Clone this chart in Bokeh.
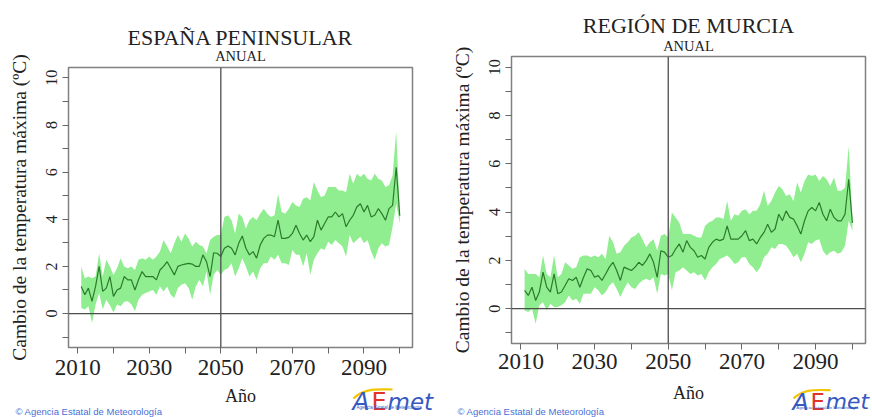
from bokeh.plotting import figure
from bokeh.layouts import row, column
from bokeh.models import Range1d, FixedTicker, Span, Title
from bokeh.core.properties import value
from bokeh.embed import file_html
from bokeh.resources import INLINE

# ---------------- data ----------------
years = list(range(2011, 2101))

esp_mean = [1.15, 0.8, 1.08, 0.52, 1.15, 2.0, 0.94, 1.08, 1.57, 0.73,
            1.0, 1.08, 1.57, 1.43, 1.43, 1.0, 1.43, 1.78, 1.57, 1.57,
            1.57, 1.43, 1.85, 2.0, 2.2, 1.92, 1.64, 2.0, 2.06, 2.1,
            2.13, 2.1, 2.0, 2.0, 2.49, 2.2, 1.57, 2.58, 2.56, 2.42,
            2.77, 2.87, 2.77, 2.49, 2.98, 3.29, 2.77, 2.49, 2.63, 2.35,
            2.91, 3.19, 3.33, 3.33, 3.26, 3.96, 3.19, 3.19, 3.23, 3.4,
            3.75, 3.4, 3.12, 3.33, 3.05, 3.26, 3.96, 3.54, 3.82, 4.1,
            4.1, 4.31, 4.1, 4.24, 3.68, 3.96, 4.17, 4.52, 4.66, 4.31,
            4.59, 4.1, 4.17, 4.45, 4.24, 3.96, 4.45, 4.59, 6.21, 4.15]
esp_high = [2.0, 1.5, 1.57, 1.5, 1.57, 2.56, 1.57, 2.28, 2.0, 1.64,
            1.92, 2.35, 2.0, 1.92, 2.0, 1.85, 2.28, 2.35, 2.28, 2.42,
            2.28, 2.42, 2.63, 3.12, 2.84, 2.56, 2.98, 3.33, 3.05, 3.4,
            3.19, 2.84, 3.05, 2.91, 2.84, 2.56, 3.12, 3.26, 3.33, 3.33,
            4.1, 4.17, 3.96, 3.4, 4.24, 4.1, 3.61, 3.96, 4.1, 3.96,
            4.24, 4.45, 4.24, 4.1, 4.17, 5.06, 4.31, 4.24, 4.45, 4.73,
            4.59, 4.52, 4.87, 4.94, 4.8, 5.58, 5.22, 4.94, 5.01, 5.37,
            5.37, 5.37, 5.22, 5.22, 5.15, 5.93, 5.51, 5.93, 5.79, 5.93,
            5.72, 5.65, 5.93, 5.72, 5.65, 5.37, 5.44, 5.86, 7.75, 4.4]
esp_low = [0.24, 0.17, 0.31, -0.4, 0.38, 0.87, 0.17, 0.59, 0.35, 0.05,
           0.38, 0.31, 0.5, 0.52, 0.4, 0.1, 0.59, 0.8, 0.87, 0.94,
           1.0, 0.8, 1.15, 0.94, 1.15, 0.8, 0.66, 1.08, 1.22, 1.29,
           1.08, 0.59, 1.15, 1.43, 1.15, 1.78, 0.8, 1.64, 1.85, 1.64,
           1.85, 1.92, 2.13, 1.57, 1.92, 2.35, 2.0, 1.57, 1.78, 1.43,
           1.92, 2.13, 2.13, 2.42, 2.28, 2.49, 2.13, 2.13, 2.06, 2.7,
           2.49, 2.49, 2.0, 2.56, 1.64, 2.28, 2.56, 2.77, 2.7, 3.05,
           2.91, 3.12, 2.98, 2.84, 2.42, 3.33, 2.98, 3.12, 3.26, 2.98,
           3.12, 2.63, 2.28, 2.77, 2.98, 2.84, 2.91, 3.68, 4.66, 3.82]

mur_mean = [0.76, 0.55, 0.89, 0.34, 0.69, 1.51, 0.89, 0.69, 1.44, 0.62,
            0.69, 0.96, 1.24, 1.17, 1.3, 0.89, 1.3, 1.65, 1.58, 1.3,
            1.37, 1.17, 1.44, 1.72, 1.92, 1.58, 1.17, 1.72, 1.65, 1.58,
            1.72, 1.92, 1.79, 1.99, 2.27, 1.92, 1.3, 2.4, 2.34, 2.13,
            2.2, 2.47, 2.68, 2.34, 2.82, 2.54, 2.4, 2.13, 2.2, 2.06,
            2.54, 2.75, 2.88, 2.82, 2.88, 3.43, 2.88, 2.88, 2.88, 3.02,
            3.23, 2.82, 2.88, 2.68, 2.95, 3.16, 3.5, 3.16, 3.3, 3.91,
            3.64, 4.05, 3.78, 3.71, 3.43, 3.09, 3.64, 4.05, 4.19, 4.05,
            4.4, 3.91, 3.64, 4.12, 3.78, 3.64, 3.64, 3.91, 5.36, 3.55]
mur_high = [1.65, 1.44, 1.44, 1.44, 1.3, 2.2, 1.44, 1.3, 2.2, 1.3,
            1.44, 1.92, 1.79, 1.65, 1.72, 2.13, 2.2, 2.2, 2.13, 2.2,
            2.13, 2.27, 2.06, 3.02, 2.75, 2.27, 2.34, 2.61, 2.75, 2.95,
            3.02, 3.16, 2.88, 2.54, 2.75, 2.88, 2.4, 3.02, 3.09, 2.95,
            3.98, 3.78, 3.57, 3.09, 3.09, 3.09, 3.02, 2.95, 2.95, 3.43,
            3.57, 3.64, 3.78, 3.78, 3.71, 4.46, 3.64, 3.91, 3.85, 4.05,
            4.12, 3.91, 4.05, 4.05, 4.33, 4.88, 4.26, 4.46, 4.81, 5.08,
            4.95, 4.67, 4.74, 4.46, 5.22, 4.81, 5.29, 5.56, 5.49, 5.56,
            5.29, 5.49, 5.36, 5.08, 5.43, 4.88, 4.88, 5.01, 6.73, 3.8]
mur_low = [-0.07, -0.14, 0.0, -0.62, 0.14, 0.27, -0.07, 0.21, 0.07, 0.07,
           0.14, 0.27, 0.55, 0.34, 0.41, 0.21, 0.62, 0.62, 0.62, 0.89,
           0.76, 0.55, 0.69, 0.96, 1.1, 0.82, 0.48, 0.82, 1.1, 0.89,
           0.82, 1.03, 1.17, 1.24, 1.17, 1.3, 0.62, 1.44, 1.37, 1.44,
           0.76, 1.51, 1.58, 1.72, 1.58, 1.44, 1.51, 1.37, 1.44, 1.17,
           1.51, 1.72, 1.85, 2.06, 2.13, 2.2, 2.06, 1.85, 1.92, 2.13,
           2.13, 1.85, 1.72, 1.51, 1.72, 2.13, 2.27, 2.54, 2.47, 2.68,
           2.68, 2.61, 2.4, 2.13, 2.27, 1.92, 2.27, 2.75, 2.68, 2.82,
           2.88, 2.4, 2.2, 2.34, 2.4, 2.27, 2.34, 2.61, 3.64, 3.23]

x_labeled_ticks = [2010, 2030, 2050, 2070, 2090]
x_minor_ticks = [2020, 2040, 2060, 2080, 2100]
y_labeled_ticks = [0, 2, 4, 6, 8, 10]
y_minor_ticks = [-1, 1, 3, 5, 7, 9]

titles = ["ESPAÑA PENINSULAR", "REGIÓN DE MURCIA"]
subtitle = "ANUAL"
x_label = "Año"
y_label = "Cambio de la temperatura máxima (ºC)"
credit = "© Agencia Estatal de Meteorología"
logo_sub = "Agencia Estatal de Meteorología"
ref_year = 2050

# ---------------- styling / layout ----------------
X_RANGE = (2007.44, 2103.56)
Y_RANGE = (-1.44, 10.44)
SERIF = "Liberation Serif"
TXT = "#222222"
BAND = "#90EE90"
LINE = "#2b7a2b"
LOGO_BLUE = "#3658c0"
LOGO_RED = "#e0342b"
LOGO_YELLOW = "#f2c500"
CREDIT_BLUE = "#4a6fd6"
PAGE_W, PAGE_H = 872, 417


def panel(title, mean, low, high, g):
    p = figure(width=g["w"], height=g["h"],
               x_range=Range1d(*X_RANGE), y_range=Range1d(*Y_RANGE),
               output_backend="svg", toolbar_location=None, frame_align=False,
               min_border_left=g["L"], min_border_right=g["R"],
               min_border_top=g["T"], min_border_bottom=g["B"])
    p.xgrid.visible = False
    p.ygrid.visible = False
    p.outline_line_color = "#808080"
    p.outline_line_width = 1.5
    p.background_fill_color = "white"
    p.border_fill_color = "white"

    p.varea(x=years, y1=low, y2=high, fill_color=BAND)
    p.line(years, mean, line_color=LINE, line_width=1.2)

    p.add_layout(Span(location=0, dimension="width", line_color="#4d4d4d", line_width=1.3))
    p.add_layout(Span(location=ref_year, dimension="height", line_color="#4d4d4d", line_width=1.3))

    xa = p.xaxis[0]
    xa.ticker = FixedTicker(ticks=x_labeled_ticks, minor_ticks=x_minor_ticks)
    xa.axis_line_color = None
    xa.major_tick_out = 6
    xa.major_tick_in = 0
    xa.minor_tick_out = 6
    xa.minor_tick_in = 0
    xa.major_tick_line_color = "#666666"
    xa.minor_tick_line_color = "#666666"
    xa.major_label_text_font = SERIF
    xa.major_label_text_font_size = "23px"
    xa.major_label_text_color = TXT
    xa.major_label_standoff = g["xls"]
    xa.axis_label = x_label
    xa.axis_label_text_font = SERIF
    xa.axis_label_text_font_size = "18px"
    xa.axis_label_text_font_style = "normal"
    xa.axis_label_text_color = TXT
    xa.axis_label_standoff = g["xas"]

    ya = p.yaxis[0]
    ya.ticker = FixedTicker(ticks=y_labeled_ticks, minor_ticks=y_minor_ticks)
    ya.axis_line_color = None
    ya.major_tick_out = 6
    ya.major_tick_in = 0
    ya.minor_tick_out = 6
    ya.minor_tick_in = 0
    ya.major_tick_line_color = "#666666"
    ya.minor_tick_line_color = "#666666"
    ya.major_label_orientation = "vertical"
    ya.major_label_text_font = SERIF
    ya.major_label_text_font_size = "16px"
    ya.major_label_text_color = TXT
    ya.major_label_standoff = 5
    ya.axis_label = y_label
    ya.axis_label_text_font = SERIF
    ya.axis_label_text_font_size = "19.5px"
    ya.axis_label_text_font_style = "normal"
    ya.axis_label_text_color = TXT
    ya.axis_label_standoff = 14

    # titles: the first one added sits next to the frame
    p.add_layout(Title(text=subtitle, align="center", text_font=SERIF,
                       text_font_size="14.5px", text_font_style="normal",
                       text_color=TXT, standoff=g["s_sub"]), "above")
    p.add_layout(Title(text=title, align="center", text_font=SERIF,
                       text_font_size="22px", text_font_style="normal",
                       text_color=TXT, standoff=g["s_main"]), "above")
    return p


geom_left = dict(w=440, h=PAGE_H, L=68, R=28, T=67, B=70, xls=6, xas=8,
                 s_sub=7.8, s_main=-17.3)
geom_right = dict(w=432, h=PAGE_H, L=71, R=7, T=56, B=74, xls=4, xas=11,
                  s_sub=5.8, s_main=-11.1)

p1 = panel(titles[0], esp_mean, esp_low, esp_high, geom_left)
p2 = panel(titles[1], mur_mean, mur_low, mur_high, geom_right)

# ---------------- footer strip (credit + AEMET logo), laid over the page bottom ----
FOOT_TOP = 372
foot = figure(width=PAGE_W, height=PAGE_H - FOOT_TOP,
              x_range=Range1d(0, PAGE_W), y_range=Range1d(PAGE_H, FOOT_TOP),
              x_axis_type=None, y_axis_type=None, output_backend="svg",
              toolbar_location=None, min_border=0, frame_align=False)
foot.grid.visible = False
foot.outline_line_color = None
foot.background_fill_alpha = 0
foot.border_fill_alpha = 0
foot.margin = (-(PAGE_H - FOOT_TOP), 0, 0, 0)

# page-pixel anchors of the footer items for each panel
credit_x = [15, 457]
credit_y = [411, 411]
logo_x = [352, 792]
logo_y = [401, 401]
logo_scale = [1.0, 0.95]

foot.text(x=credit_x, y=credit_y, text=[credit, credit], text_font=value("Liberation Sans"),
          text_font_size="9.5px", text_color=CREDIT_BLUE, text_baseline="alphabetic")

for lx, ly, s in zip(logo_x, logo_y, logo_scale):
    foot.bezier(x0=[lx + 1], y0=[ly - 3], x1=[lx + 40 * s], y1=[ly - 12 * s],
                cx0=[lx + 12 * s], cy0=[ly - 14 * s], cx1=[lx + 26 * s], cy1=[ly - 12 * s],
                line_color=LOGO_YELLOW, line_width=2.2)
    foot.text(x=[lx], y=[ly], text=["A"], text_font=value("DejaVu Sans"),
              text_font_size=f"{25 * s:.1f}px", text_font_style="italic",
              text_color=LOGO_BLUE, text_baseline="alphabetic")
    foot.text(x=[lx + 19 * s], y=[ly], text=["E"], text_font=value("DejaVu Sans"),
              text_font_size=f"{24 * s:.1f}px", text_color=LOGO_RED,
              text_baseline="alphabetic")
    foot.text(x=[lx + 35 * s], y=[ly], text=["met"], text_font=value("DejaVu Sans"),
              text_font_size=f"{23 * s:.1f}px", text_font_style="italic",
              text_color=LOGO_BLUE, text_baseline="alphabetic")
    foot.text(x=[lx + 4 * s], y=[ly + 6], text=[logo_sub], text_font=value("Liberation Sans"),
              text_font_size=f"{4.5 * s:.1f}px", text_color=LOGO_BLUE,
              text_baseline="alphabetic")

layout = column(row(p1, p2), foot)
open("out.html", "w").write(file_html(layout, INLINE))
